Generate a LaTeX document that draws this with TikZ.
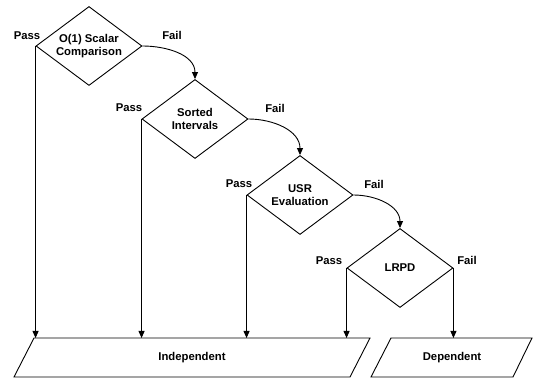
\documentclass[tikz,border=0pt]{standalone}
\usepackage{fontspec}
\setmainfont{Liberation Sans}
\usetikzlibrary{shapes.geometric,arrows.meta}
\begin{document}
\begin{tikzpicture}[x=1pt,y=1pt,
  every node/.style={font=\bfseries\fontsize{11.3}{13}\selectfont, inner sep=0pt},
  dia/.style={diamond, draw, line width=0.9pt, aspect=1.34, minimum width=106pt, minimum height=79pt, align=center},
  lbl/.style={},
  ln/.style={line width=0.9pt},
  arr/.style={line width=0.9pt, -{Triangle[length=7pt,width=6pt]}}]
\useasboundingbox (0,0) rectangle (536,-379);
% decisions
\node[dia] (d1) at (89,-46) {O(1) Scalar\\Comparison};
\node[dia] (d2) at (195,-119) {Sorted\\Intervals};
\node[dia] (d3) at (300,-195) {USR\\Evaluation};
\node[dia] (d4) at (400,-268) {LRPD};
% outputs
\draw[ln] (34,-338) -- (370,-338) -- (350,-377) -- (14,-377) -- cycle;
\draw[ln] (391,-338) -- (532,-338) -- (513,-377) -- (371,-377) -- cycle;
\node (ind) at (192,-357.5) {Independent};
\node (dep) at (452,-357.5) {Dependent};
\coordinate (top) at (0,-338);
% labels
\node[lbl] (p1) at (27,-36) {Pass};
\node[lbl] (f1) at (172,-35) {Fail};
\node[lbl] (p2) at (129,-108) {Pass};
\node[lbl] (f2) at (275,-108) {Fail};
\node[lbl] (p3) at (239,-184) {Pass};
\node[lbl] (f3) at (374,-184) {Fail};
\node[lbl] (p4) at (329,-261) {Pass};
\node[lbl] (f4) at (467,-260) {Fail};
% fail curves
\draw[arr] (d1.east) to[out=0,in=90] (d2.north);
\draw[arr] (d2.east) to[out=0,in=90] (d3.north);
\draw[arr] (d3.east) to[out=0,in=90] (d4.north);
% pass arrows
\draw[arr] (d1.west) -- (d1.west |- top);
\draw[arr] (d2.west) -- (d2.west |- top);
\draw[arr] (d3.west) -- (d3.west |- top);
\draw[arr] (d4.west) -- (d4.west |- top);
\draw[arr] (d4.east) -- (d4.east |- top);
\end{tikzpicture}
\end{document}
